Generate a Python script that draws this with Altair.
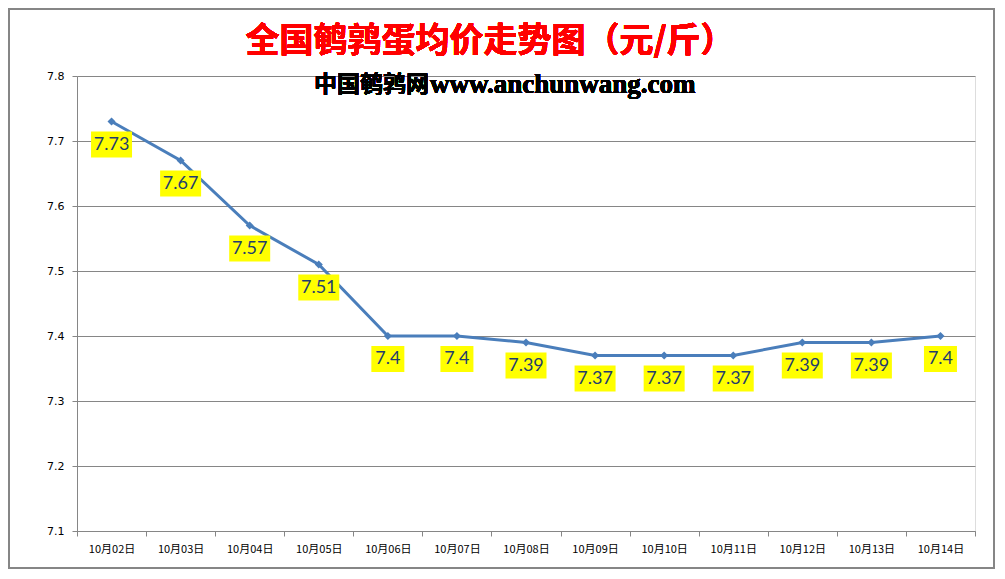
import altair as alt
import pandas as pd

categories = ["10月02日", "10月03日", "10月04日", "10月05日", "10月06日", "10月07日",
              "10月08日", "10月09日", "10月10日", "10月11日", "10月12日", "10月13日", "10月14日"]
values = [7.73, 7.67, 7.57, 7.51, 7.4, 7.4, 7.39, 7.37, 7.37, 7.37, 7.39, 7.39, 7.4]
y_ticks = [7.1, 7.2, 7.3, 7.4, 7.5, 7.6, 7.7, 7.8]
title_text = "全国鹌鹑蛋均价走势图（元/斤）"
sub_cn = "中国鹌鹑网"
sub_en = "www.anchunwang.com"

labels = [f"{v:g}" for v in values]
df = pd.DataFrame({"date": categories, "price": values, "label": labels,
                   "n": [len(s) for s in labels]})
bounds = pd.DataFrame({"b": list(range(len(categories) + 1))})

GRID = "#868686"
LINE = "#4A7EBB"

W, H = 898, 455

xenc = alt.X("date:N", sort=categories, title=None,
             scale=alt.Scale(type="point", padding=0.5),
             axis=alt.Axis(labelFont="Noto Sans CJK SC", labelFontSize=11, labelColor="#000000",
                           labelAngle=0, ticks=False, tickSize=0, labelPadding=12,
                           domainColor=GRID, domainWidth=1, grid=False))
yenc = alt.Y("price:Q", title=None,
             scale=alt.Scale(domain=[7.1, 7.8], nice=False, zero=False),
             axis=alt.Axis(values=y_ticks, format=".1f", labelFont="DejaVu Sans", labelFontSize=11,
                           labelColor="#000000", tickSize=5, tickColor=GRID, labelPadding=8,
                           domainColor=GRID, gridColor=GRID, gridWidth=1, grid=True))

base = alt.Chart(df)

line = base.mark_line(color=LINE, strokeWidth=3).encode(x=xenc, y=yenc)
pts = base.mark_point(shape="diamond", filled=True, color=LINE, size=65, opacity=1).encode(
    x=alt.X("date:N", sort=categories), y=alt.Y("price:Q"))

box4 = base.transform_filter("datum.n >= 4").mark_rect(
    color="#FFFF00", width=41, height=26, yOffset=23).encode(
    x=alt.X("date:N", sort=categories), y=alt.Y("price:Q"))
box3 = base.transform_filter("datum.n < 4").mark_rect(
    color="#FFFF00", width=33, height=26, yOffset=23).encode(
    x=alt.X("date:N", sort=categories), y=alt.Y("price:Q"))
txt = base.mark_text(font="Lato", fontSize=18, color="#1F3D6E", dy=23, baseline="middle").encode(
    x=alt.X("date:N", sort=categories), y=alt.Y("price:Q"), text="label:N")

title = alt.Chart(df).mark_text(text=title_text, font="Noto Sans CJK SC", fontSize=34,
                                fontWeight="bold", color="#FF0000", baseline="middle").encode(
    x=alt.value(413), y=alt.value(-34))
sub1 = alt.Chart(df).mark_text(text=sub_cn, font="Noto Sans CJK SC", fontSize=23,
                               fontWeight="bold", color="#000000", baseline="middle",
                               align="right").encode(
    x=alt.value(352), y=alt.value(9))
sub2 = alt.Chart(df).mark_text(text=sub_en, font="Liberation Serif", fontSize=27,
                               fontWeight="bold", color="#000000", baseline="middle",
                               align="left").encode(
    x=alt.value(353), y=alt.value(9))

border = alt.Chart(df).mark_rect(fill=None, stroke=GRID, strokeWidth=1.5).encode(
    x=alt.value(-68), x2=alt.value(917), y=alt.value(-67), y2=alt.value(492))

tickl = alt.Chart(bounds).mark_point(opacity=0).encode(
    x=alt.X("b:Q", title=None,
            scale=alt.Scale(domain=[0, len(categories)], nice=False, zero=False),
            axis=alt.Axis(orient="bottom", values=list(range(len(categories) + 1)), labels=False,
                          domain=False, grid=False, ticks=True, tickSize=5, tickColor=GRID)),
    y=alt.value(0))

main = alt.layer(line, pts, box4, box3, txt, title, sub1, sub2, border)
chart = alt.layer(main, tickl).resolve_scale(x="independent").properties(
    width=W, height=H,
    autosize=alt.AutoSizeParams(type="none"),
    padding={"left": 69, "top": 68, "right": 20, "bottom": 38},
).configure_view(stroke=None).configure(background="#ffffff")

chart.save("out.html", embed_options={"renderer": "svg", "actions": False})
